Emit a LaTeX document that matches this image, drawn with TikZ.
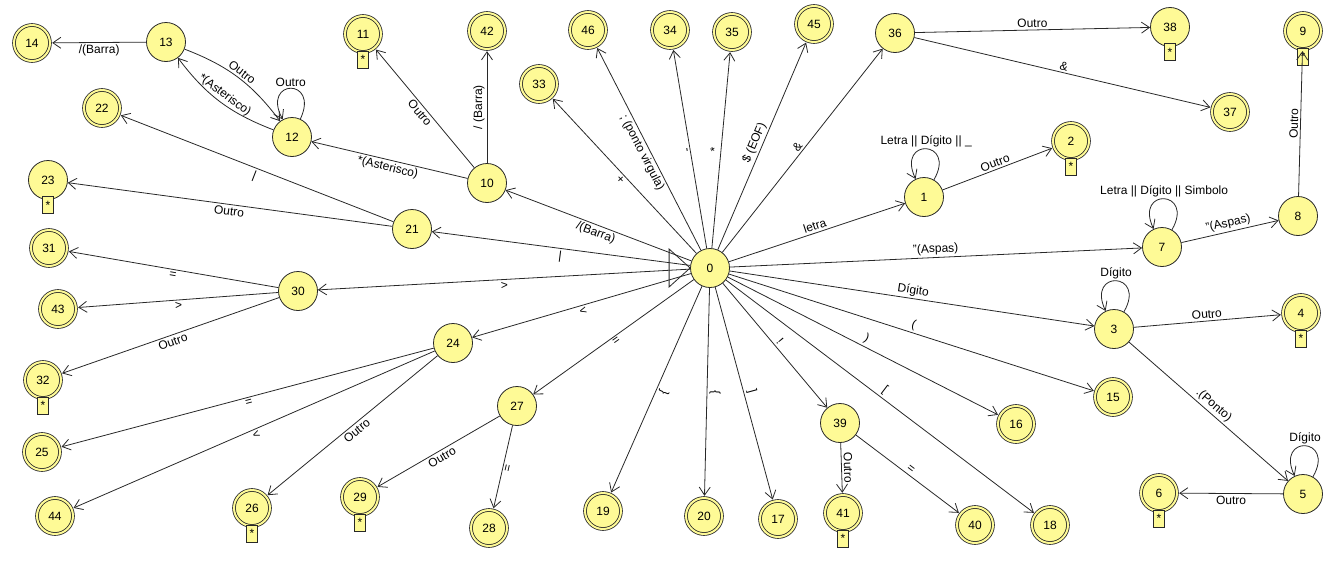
\documentclass[tikz,border=0pt]{standalone}
\usepackage{fontspec}
\setmainfont{Liberation Sans}
\usetikzlibrary{arrows.meta}
\definecolor{yfill}{RGB}{254,250,150}
\definecolor{ln}{RGB}{40,40,40}
\begin{document}
\begin{tikzpicture}[x=1pt,y=-1pt, font=\fontsize{12}{14}\selectfont,
 st/.style={circle, draw=ln, fill=yfill, line width=0.8pt, minimum size=39pt, inner sep=0pt},
 acc/.style={st, minimum size=36pt, double=yfill, double distance=2pt, outer sep=2.2pt},
 starbox/.style={rectangle, draw=ln, fill=yfill, line width=0.8pt, minimum width=11pt, minimum height=17pt, inner sep=0pt, font=\fontsize{12}{12}\selectfont, anchor=north},
 tr/.style={draw=ln, line width=0.8pt, -{Straight Barb[length=8pt,width=11pt]}},
 lb/.style={sloped, auto, inner sep=2pt},
 la/.style={sloped, above, inner sep=2pt},
 lw/.style={sloped, below, inner sep=2pt},
 lp/.style={above, inner sep=1pt}
]
\useasboundingbox (0,0) rectangle (1339,581);
% states
\node[st] (n0) at (710,268) {0};
\node[st] (n1) at (924,197) {1};
\node[acc] (n2) at (1071,141) {2};
\node[st] (n3) at (1114,329) {3};
\node[acc] (n4) at (1301,313) {4};
\node[st] (n5) at (1303,494) {5};
\node[acc] (n6) at (1159,493) {6};
\node[st] (n7) at (1162,247) {7};
\node[st] (n8) at (1298,216) {8};
\node[acc] (n9) at (1303,31) {9};
\node[st] (n10) at (487,183) {10};
\node[acc] (n11) at (363,34) {11};
\node[st] (n12) at (292,137) {12};
\node[st] (n13) at (166,42) {13};
\node[acc] (n14) at (32,43) {14};
\node[acc] (n15) at (1113,397) {15};
\node[acc] (n16) at (1016,424) {16};
\node[acc] (n17) at (778,519) {17};
\node[acc] (n18) at (1050,525) {18};
\node[acc] (n19) at (603,511) {19};
\node[acc] (n20) at (704,516) {20};
\node[st] (n21) at (412,229) {21};
\node[acc] (n22) at (102,108) {22};
\node[st] (n23) at (48,180) {23};
\node[st] (n24) at (453,343) {24};
\node[acc] (n25) at (42,452) {25};
\node[acc] (n26) at (252,508) {26};
\node[st] (n27) at (517,406) {27};
\node[acc] (n28) at (489,528) {28};
\node[acc] (n29) at (360,497) {29};
\node[st] (n30) at (298,291) {30};
\node[acc] (n31) at (49,248) {31};
\node[acc] (n32) at (43,380) {32};
\node[acc] (n33) at (539,84) {33};
\node[acc] (n34) at (670,30) {34};
\node[acc] (n35) at (732,32) {35};
\node[st] (n36) at (895,33) {36};
\node[acc] (n37) at (1230,112) {37};
\node[st] (n38) at (1170,27) {38};
\node[st] (n39) at (840,423) {39};
\node[acc] (n40) at (975,525) {40};
\node[acc] (n41) at (843,513) {41};
\node[acc] (n42) at (487,31) {42};
\node[acc] (n43) at (58,309) {43};
\node[acc] (n44) at (55,516) {44};
\node[acc] (n45) at (814,24) {45};
\node[acc] (n46) at (588,30) {46};
% star boxes
\foreach \k in {2,4,6,9,11,23,26,29,32,38,41}
  \node[starbox] (s\k) at ([yshift=3.5pt]n\k.south) {*};
% initial marker
\draw[draw=ln, fill=white, line width=0.8pt] (n0.west) -- ++(-21pt,19pt) -- ++(0,-38pt) -- cycle;
% transitions from 0
\draw[tr] (n0) -- node[la] {letra} (n1);
\draw[tr] (n0) -- node[la] {"(Aspas)} (n7);
\draw[tr] (n0) -- node[la] {Dígito} (n3);
\draw[tr] (n0) -- node[la] {(} (n15);
\draw[tr] (n0) -- node[la] {)} (n16);
\draw[tr] (n0) -- node[la] {[} (n18);
\draw[tr] (n0) -- node[la] {!} (n39);
\draw[tr] (n0) -- node[la] {]} (n17);
\draw[tr] (n0) -- node[lw] {\}} (n20);
\draw[tr] (n0) -- node[lw] {\{} (n19);
\draw[tr] (n0) -- node[lw] {=} (n27);
\draw[tr] (n0) -- node[lw] {<} (n24);
\draw[tr] (n0) -- node[lw] {>} (n30);
\draw[tr] (n0) -- node[lw] {|} (n21);
\draw[tr] (n0) -- node[lw] {/(Barra)} (n10);
\draw[tr] (n0) -- node[lw] {+} (n33);
\draw[tr] (n0) -- node[lw] {; (ponto virgula)} (n46);
\draw[tr] (n0) -- node[lw] {-} (n34);
\draw[tr] (n0) -- node[la] {*} (n35);
\draw[tr] (n0) -- node[la] {\$ (EOF)} (n45);
\draw[tr] (n0) -- node[la] {\&} (n36);
% other transitions
\draw[tr] (n1.60) .. controls +(60:46pt) and +(115:46pt) .. node[lp] {Letra || Dígito || \_} (n1.115);
\draw[tr] (n1) -- node[la] {Outro} (n2);
\draw[tr] (n7.60) .. controls +(60:46pt) and +(115:46pt) .. node[lp] {Letra || Dígito || Simbolo} (n7.115);
\draw[tr] (n7) -- node[la] {"(Aspas)} (n8);
\draw[tr] (n8) -- node[la] {Outro} (n9);
\draw[tr] (n3.60) .. controls +(60:46pt) and +(115:46pt) .. node[lp] {Dígito} (n3.115);
\draw[tr] (n3) -- node[la] {Outro} (n4);
\draw[tr] (n3) -- node[la] {.(Ponto)} (n5);
\draw[tr] (n5.60) .. controls +(60:46pt) and +(115:46pt) .. node[lp] {Dígito} (n5.115);
\draw[tr] (n5) -- node[lw] {Outro} (n6);
\draw[tr] (n36) -- node[la] {Outro} (n38);
\draw[tr] (n36) -- node[la] {\&} (n37);
\draw[tr] (n39) -- node[la] {Outro} (n41);
\draw[tr] (n39) -- node[la] {=} (n40);
\draw[tr] (n27) -- node[lw] {=} (n28);
\draw[tr] (n27) -- node[lw] {Outro} (n29);
\draw[tr] (n24) -- node[lw] {=} (n25);
\draw[tr] (n24) -- node[lw] {<} (n44);
\draw[tr] (n24) -- node[lw] {Outro} (n26);
\draw[tr] (n30) -- node[lw] {=} (n31);
\draw[tr] (n30) -- node[lw] {>} (n43);
\draw[tr] (n30) -- node[lw] {Outro} (n32);
\draw[tr] (n21) -- node[lw] {|} (n22);
\draw[tr] (n21) -- node[lw] {Outro} (n23);
\draw[tr] (n10) -- node[lw] {*(Asterisco)} (n12);
\draw[tr] (n10) -- node[lw] {Outro} (n11);
\draw[tr] (n10) -- node[la] {/ (Barra)} (n42);
\draw[tr] (n12.65) .. controls +(65:46pt) and +(118:46pt) .. node[lp] {Outro} (n12.118);
\draw[tr] (n12) to[bend left=16] node[lb] {*(Asterisco)} (n13);
\draw[tr] (n13) to[bend left=16] node[lb] {Outro} (n12);
\draw[tr] (n13) -- node[lw] {/(Barra)} (n14);
\end{tikzpicture}
\end{document}
